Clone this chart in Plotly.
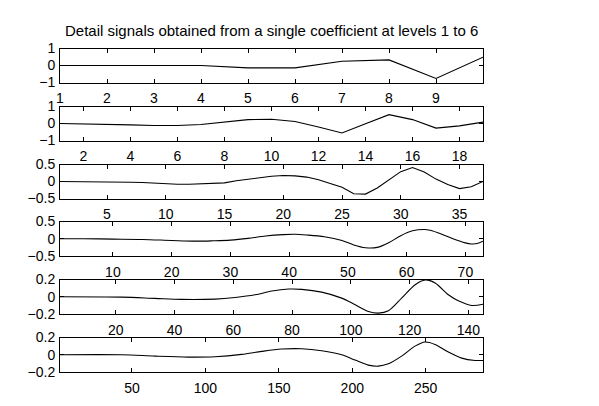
import plotly.graph_objects as go

# ---------------- data ----------------
title_text = "Detail signals obtained from a single coefficient at levels 1 to 6"

d1_x = list(range(1, 11))
d1_y = [0.0, 0.0, 0.02, 0.0, -0.14, -0.14, 0.25, 0.33, -0.76, 0.49]

d2_x = list(range(1, 20))
d2_y = [0.0, -0.02, -0.02, -0.08, -0.12, -0.12, -0.06, 0.08, 0.23, 0.25,
        0.12, -0.21, -0.56, -0.02, 0.52, 0.23, -0.27, -0.14, 0.08]

d3_x = list(range(1, 38))
d3_y = [0.0, 0.0, 0.0, 0.0, 0.0, -0.01, -0.02, -0.03, -0.05, -0.06,
        -0.08, -0.08, -0.07, -0.06, -0.04, 0.02, 0.07, 0.12, 0.155, 0.175,
        0.165, 0.13, 0.05, -0.06, -0.17, -0.36, -0.37, -0.19, 0.04, 0.29,
        0.41, 0.28, 0.07, -0.09, -0.21, -0.155, 0.0]

d4_x = [1, 5, 10, 15, 20, 24, 27, 30, 33, 36, 39, 41, 43, 46, 49, 51, 53, 55,
        57, 59, 61, 63, 64, 66, 68, 70, 71, 72, 73]
d4_y = [0.0, 0.0, -0.01, -0.02, -0.05, -0.07, -0.06, -0.04, 0.01, 0.08, 0.12,
        0.13, 0.11, 0.06, -0.05, -0.18, -0.26, -0.25, -0.11, 0.09, 0.23, 0.27,
        0.245, 0.13, -0.01, -0.12, -0.15, -0.14, -0.07]

d5_x = [1, 22, 33.3, 42.4, 53.8, 60.6, 67.4, 73.1, 78.8, 83.3, 90.1, 96.9,
        101.5, 106, 109.4, 112.8, 117.3, 121.9, 125.3, 128.7, 133.2, 136.6,
        141.2, 145]
d5_y = [0.0, -0.004, -0.019, -0.031, -0.027, -0.008, 0.023, 0.066, 0.089,
        0.086, 0.054, -0.016, -0.093, -0.171, -0.19, -0.163, -0.016, 0.14,
        0.195, 0.16, 0.023, -0.047, -0.101, -0.086]

d6_x = [1, 43, 65.7, 88.4, 106.5, 124.7, 138.3, 151.9, 165.5, 179.2, 192.8,
        201.9, 210.9, 217.7, 224.6, 233.6, 242.7, 249.5, 256.3, 265.4, 274.5,
        283.6, 289]
d6_y = [0.0, 0.0, -0.016, -0.027, -0.023, 0.004, 0.039, 0.066, 0.07, 0.047,
        0.0, -0.062, -0.12, -0.132, -0.105, -0.016, 0.1, 0.148, 0.12, 0.031,
        -0.039, -0.066, -0.066]

x_ranges = [[1, 10], [1, 19], [1, 37], [1, 73], [1, 145], [1, 289]]
x_ticks = [list(range(1, 10)), list(range(2, 19, 2)), list(range(5, 36, 5)),
           list(range(10, 71, 10)), list(range(20, 141, 20)),
           list(range(50, 251, 50))]
y_lims = [1, 1, 0.5, 0.5, 0.2, 0.2]

series = [(d1_x, d1_y, "linear"), (d2_x, d2_y, "linear"), (d3_x, d3_y, "linear"),
          (d4_x, d4_y, "spline"), (d5_x, d5_y, "spline"), (d6_x, d6_y, "spline")]

# ---------------- layout (pixel geometry) ----------------
W, H = 599, 406
left_px, right_px = 60, 483
boxes_px = [(48.5, 82.5), (106.5, 140.5), (164.5, 198.5),
            (221.5, 256), (279.5, 314), (337.5, 372)]
FONT = "Liberation Sans, Arial, Helvetica, sans-serif"
FS = 14

fig = go.Figure()
layout = dict(
    width=W, height=H,
    margin=dict(l=0, r=0, t=0, b=0, autoexpand=False),
    paper_bgcolor="white", plot_bgcolor="white",
    showlegend=False,
    font=dict(family=FONT, size=FS, color="black"),
)

for i, (xs, ys, shape) in enumerate(series):
    n = "" if i == 0 else str(i + 1)
    line = dict(color="black", width=1.1, shape=shape)
    if shape == "spline":
        line["smoothing"] = 0.9
    fig.add_trace(go.Scatter(x=xs, y=ys, mode="lines", line=line,
                             xaxis="x" + n, yaxis="y" + n, hoverinfo="skip"))
    top, bot = boxes_px[i]
    lim = y_lims[i]
    common = dict(showgrid=False, zeroline=False, showline=True,
                  linecolor="black", linewidth=1, mirror="ticks",
                  ticks="inside", ticklen=4, tickcolor="black", tickwidth=1,
                  automargin=False,
                  tickfont=dict(family=FONT, size=FS, color="black"))
    layout["xaxis" + n] = dict(
        domain=[left_px / W, right_px / W], anchor="y" + n,
        range=x_ranges[i], tickvals=x_ticks[i], ticklabelstandoff=3,
        **common)
    layout["yaxis" + n] = dict(
        domain=[1 - bot / H, 1 - top / H], anchor="x" + n,
        range=[-lim, lim], tickvals=[-lim, 0, lim], ticklabelstandoff=1,
        **common)

layout["annotations"] = [dict(
    text=title_text, x=(left_px + right_px) / 2 / W, y=1 - 31 / H,
    xref="paper", yref="paper", showarrow=False, xanchor="center",
    yanchor="middle", font=dict(family=FONT, size=FS + 1, color="black"))]

fig.update_layout(**layout)
fig.write_html("out.html",
               config={"displayModeBar": False},
               post_script="document.body.style.margin='0';")
